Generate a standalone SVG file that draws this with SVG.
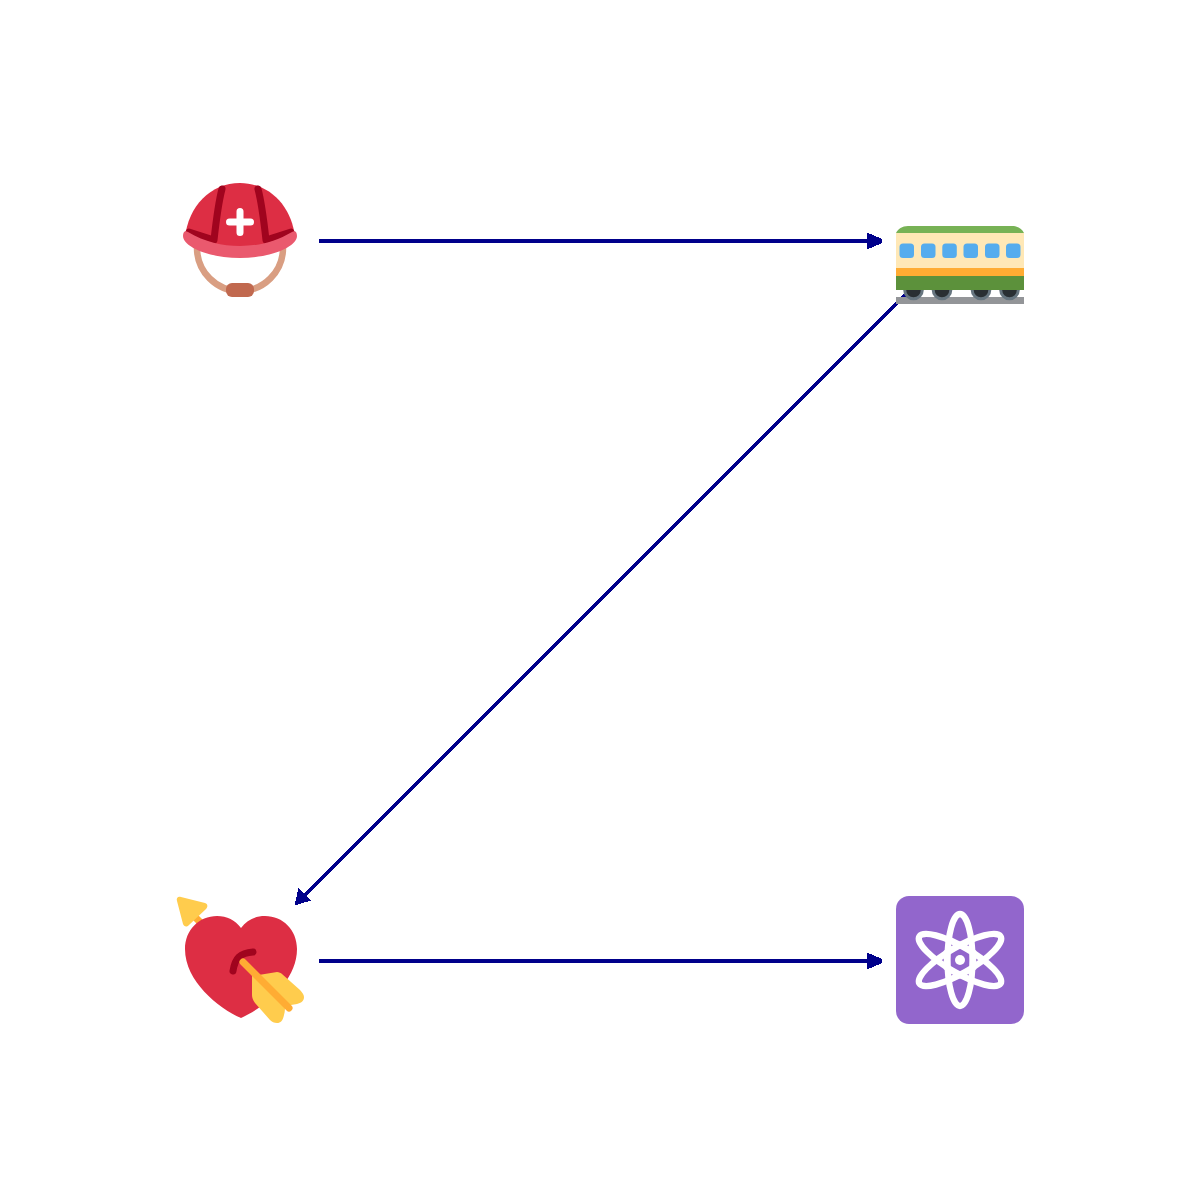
<svg xmlns="http://www.w3.org/2000/svg" width="1200" height="1200" viewBox="0 0 1200 1200">
<style>
.c{fill:none;stroke:#00008B;stroke-width:3.800;shape-rendering:crispEdges}
.a{fill:#00008B;shape-rendering:crispEdges}
.w{fill:none;stroke:#fff;stroke-width:6.300}
.d{fill:none;stroke:#A0041E;stroke-width:7;stroke-linecap:round;stroke-linejoin:round}
</style>
<rect width="1200" height="1200" fill="#fff"/>
<g id="connectors">
<path class="c" d="M319 241H870"/>
<path class="a" d="M882 239V243L867 249.500V232.500Z"/>
<path class="c" d="M906 294L304 896"/>
<path class="a" d="M294.500 905.500L298.500 888L311 900.500Z"/>
<path class="c" d="M319 961H870"/>
<path class="a" d="M882 959V963L867 969.500V952.500Z"/>
</g>
<g id="helmet">
<path d="M197 248A43 43 0 0 0 283 248" fill="none" stroke="#D99E82" stroke-width="6.500"/>
<rect x="226" y="283" width="28" height="14" rx="6" fill="#C1694F"/>
<path d="M185 238C188 206 211 183 240 183C269 183 292 206 295 238L240 250Z" fill="#DD2E44"/>
<path class="d" d="M222 189C218 204 216 222 214 240L189 232"/>
<path class="d" d="M258 189C262 204 264 222 266 240L291 232"/>
<path d="M183 236C183 232 185 230 188 232C205 242 222 246 240 246C258 246 275 242 292 232C295 230 297 232 297 236C297 247 270 258 240 258C210 258 183 247 183 236Z" fill="#EA596E"/>
<path d="M240 211.500V232.500M229.500 222H250.500" fill="none" stroke="#fff" stroke-width="7" stroke-linecap="round"/>
</g>
<g id="train">
<path d="M896 233C898 229 902 226 908 226H1012C1018 226 1022 229 1024 233Z" fill="#77B255"/>
<rect x="896" y="233" width="128" height="35" fill="#FFE8B6"/>
<g fill="#55ACEE">
<rect x="899.500" y="243.500" width="14.500" height="14.500" rx="3.500"/>
<rect x="921" y="243.500" width="14.500" height="14.500" rx="3.500"/>
<rect x="942.300" y="243.500" width="14.500" height="14.500" rx="3.500"/>
<rect x="963.500" y="243.500" width="14.500" height="14.500" rx="3.500"/>
<rect x="985" y="243.500" width="14.500" height="14.500" rx="3.500"/>
<rect x="1006" y="243.500" width="14.500" height="14.500" rx="3.500"/>
</g>
<rect x="896" y="268" width="128" height="8" fill="#FFAC33"/>
<rect x="896" y="297" width="128" height="7" fill="#939598"/>
<g fill="#292F33" stroke="#66757F" stroke-width="3">
<circle cx="913.500" cy="290" r="8.800"/>
<circle cx="942" cy="290" r="8.800"/>
<circle cx="981" cy="290" r="8.800"/>
<circle cx="1009.500" cy="290" r="8.800"/>
</g>
<rect x="896" y="276" width="128" height="14" fill="#5C913B"/>
</g>
<g id="heart">
<path d="M190 912L210 932" stroke="#FFAC33" stroke-width="7" fill="none"/>
<path d="M181 897L205 903C208 904 208 907 206 909L189 925C186 928 184 926 183 924L177 901C176 898 178 896 181 897Z" fill="#FFCC4D"/>
<path d="M241 928C235 920 227 916 217 916C199 916 185 930 185 949C185 981 218 1008 241 1018C264 1008 297 981 297 949C297 930 283 916 265 916C255 916 247 920 241 928Z" fill="#DD2E44"/>
<path d="M233 971C235 958 240 953 253 952" fill="none" stroke="#A0041E" stroke-width="7" stroke-linecap="round"/>
<path d="M252 976L277 972C279 972 281 973 282 974L300 990C302 992 304 995 304 997C304 1001 301 1003 297 1004C293 1005 289 1005 285 1005C285 1008 285 1012 284 1015C283 1020 281 1023 277 1023C274 1023 272 1022 270 1020L255 1003C253 1000 252 998 252 995Z" fill="#FFCC4D"/>
<path d="M243 962L289 1008" stroke="#FFAC33" stroke-width="7" stroke-linecap="round" fill="none"/>
</g>
<g id="atom">
<rect x="896" y="896" width="128" height="128" rx="13" fill="#9266CC"/>
<ellipse class="w" cx="960" cy="960" rx="12.500" ry="46"/>
<ellipse class="w" cx="960" cy="960" rx="13" ry="47" transform="rotate(60 960 960)"/>
<ellipse class="w" cx="960" cy="960" rx="13" ry="47" transform="rotate(-60 960 960)"/>
<path d="M960 944.500L973.500 952.300V967.700L960 975.500L946.500 967.700V952.300Z" fill="none" stroke="#fff" stroke-width="5.500"/>
<circle cx="960" cy="960" r="5" fill="#fff"/>
</g>
</svg>
